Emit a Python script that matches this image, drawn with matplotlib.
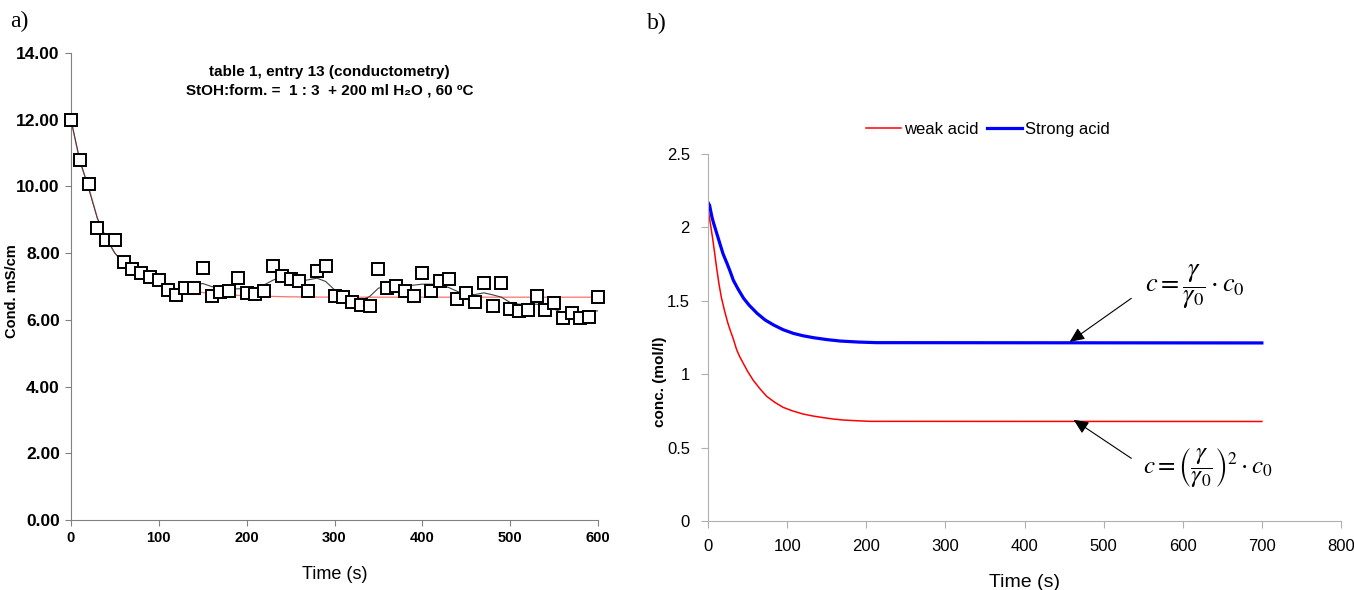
import matplotlib.pyplot as plt
import numpy as np

plt.rcParams['font.family'] = ['Liberation Sans', 'DejaVu Sans']
plt.rcParams['mathtext.fontset'] = 'stix'

# ---------------- panel a) data : conductometry ----------------
time_a = list(range(0, 610, 10))
cond = [12.0, 10.79, 10.08, 8.76, 8.38, 8.38, 7.72, 7.52, 7.40, 7.27,
        7.19, 6.90, 6.74, 6.95, 6.96, 7.56, 6.72, 6.83, 6.86, 7.24,
        6.81, 6.78, 6.87, 7.62, 7.32, 7.22, 7.16, 6.86, 7.46, 7.62,
        6.72, 6.69, 6.54, 6.44, 6.42, 7.51, 6.97, 7.02, 6.88, 6.72,
        7.39, 6.88, 7.17, 7.21, 6.62, 6.81, 6.55, 7.10, 6.41, 7.10,
        6.34, 6.26, 6.31, 6.73, 6.30, 6.51, 6.07, 6.21, 6.07, 6.08,
        6.68]

# exponential fit
fit_t = [0, 10, 20, 30, 40, 50, 60, 70, 80, 90, 100, 110, 120, 140, 160, 180, 200, 250, 300, 600]
fit_v = [12.0, 10.75, 10.0, 9.05, 8.45, 8.0, 7.7, 7.5, 7.35, 7.23, 7.13, 7.02, 6.93, 6.85, 6.79,
         6.75, 6.72, 6.69, 6.68, 6.68]

# smoothed trend line
trend_v = [12.0, 10.8, 9.95, 9.05, 8.45, 8.0, 7.7, 7.48, 7.32, 7.18,
           7.05, 6.95, 6.88, 6.92, 7.03, 7.09, 7.0, 6.94, 6.92, 6.93,
           6.94, 6.95, 7.05, 7.19, 7.3, 7.22, 7.16, 7.2, 7.25, 7.15,
           6.9, 6.72, 6.62, 6.58, 6.7, 6.95, 7.02, 7.05, 7.02, 7.04,
           7.07, 7.07, 7.05, 6.97, 6.85, 6.76, 6.76, 6.81, 6.75, 6.68,
           6.52, 6.47, 6.47, 6.47, 6.44, 6.32, 6.22, 6.21, 6.22, 6.25,
           6.27]

# ---------------- panel b) data : model curves ----------------
weak_t = [0, 2, 4, 6, 8, 11, 14, 17, 21, 25, 28, 32, 36, 40, 45, 50, 57, 65, 74, 84,
          95, 107, 120, 133, 146, 158, 171, 188, 205, 700]
weak_v = [2.13, 2.06, 1.99, 1.92, 1.84, 1.72, 1.61, 1.52, 1.43, 1.35, 1.30, 1.24, 1.17, 1.12,
          1.07, 1.02, 0.96, 0.905, 0.85, 0.81, 0.774, 0.75, 0.729, 0.715, 0.704, 0.695, 0.688,
          0.683, 0.679, 0.678]
strong_t = [0, 2, 5, 7, 11, 15, 19, 24, 28, 32, 38, 45, 52, 62, 72, 83, 95, 108, 120, 133,
            150, 167, 190, 213, 700]
strong_v = [2.17, 2.15, 2.07, 2.03, 1.96, 1.89, 1.82, 1.755, 1.70, 1.64, 1.58, 1.517, 1.47,
            1.415, 1.37, 1.335, 1.303, 1.278, 1.262, 1.249, 1.236, 1.226, 1.219, 1.215, 1.213]

serif = ['Liberation Serif', 'DejaVu Serif']

fig = plt.figure(figsize=(13.54, 5.9), dpi=100)
ax1 = fig.add_axes([0.0524, 0.1186, 0.3893, 0.7916])
ax2 = fig.add_axes([0.5229, 0.1169, 0.4675, 0.6221])

#============ panel a ============
ax1.plot(fit_t, fit_v, color='#ff7070', lw=0.9, zorder=2)
ax1.plot(time_a, trend_v, color='#404040', lw=0.8, zorder=3)
ax1.plot(time_a, cond, ls='none', marker='s', ms=8, mfc='white', mec='black', mew=1.4,
         zorder=4, clip_on=False)

ax1.set_xlim(0, 600)
ax1.set_ylim(0, 14)
ax1.set_xticks(np.arange(0, 601, 100))
ax1.set_yticks(np.arange(0, 14.1, 2))
ax1.set_yticklabels(['%.2f' % v for v in np.arange(0, 14.1, 2)])
for s in ['top', 'right']:
  ax1.spines[s].set_visible(False)
for s in ['left', 'bottom']:
  ax1.spines[s].set_color('#808080')
ax1.tick_params(direction='out', length=4, color='#808080', pad=4)
ax1.tick_params(axis='x', labelsize=10.5)
ax1.tick_params(axis='y', labelsize=12.5)
for lab in ax1.get_xticklabels() + ax1.get_yticklabels():
  lab.set_fontweight('bold')
ax1.set_ylabel('Cond. mS/cm', fontsize=10.5, fontweight='bold')
ax1.yaxis.set_label_coords(-0.098, 0.49)
ax1.set_xlabel('Time (s)', fontsize=13, labelpad=15)
ax1.text(0.491, 0.94, 'table 1, entry 13 (conductometry)\nStOH:form. =  1 : 3  + 200 ml H\u2082O , 60 ºC',
         transform=ax1.transAxes, ha='center', va='center', fontsize=11, fontweight='bold',
         linespacing=1.4)

#============ panel b ============
ax2.plot(weak_t, weak_v, color='#ff0000', lw=1.1, label='weak acid')
ax2.plot(strong_t, strong_v, color='#0000ff', lw=2.3, label='Strong acid')

ax2.set_xlim(0, 800)
ax2.set_ylim(0, 2.5)
ax2.set_xticks(np.arange(0, 801, 100))
ax2.set_yticks([0, 0.5, 1, 1.5, 2, 2.5])
ax2.set_yticklabels(['0', '0.5', '1', '1.5', '2', '2.5'])
for s in ['top', 'right']:
  ax2.spines[s].set_visible(False)
for s in ['left', 'bottom']:
  ax2.spines[s].set_color('#b0b0b0')
ax2.tick_params(direction='out', length=5, color='#b0b0b0', labelsize=12, pad=8)
ax2.set_ylabel('conc. (mol/l)', fontsize=11, fontweight='bold')
ax2.yaxis.set_label_coords(-0.064, 0.38)
ax2.set_xlabel('Time (s)', fontsize=14, labelpad=14)

ax2.legend(loc='center', bbox_to_anchor=(0.7297, 0.78), bbox_transform=fig.transFigure,
           ncol=2, frameon=False, handlelength=2.1, handletextpad=0.2, columnspacing=0.5,
           prop={'size': 12})

arrow = dict(arrowstyle='-|>,head_length=0.9,head_width=0.4', color='black', lw=0.8,
             shrinkA=0, shrinkB=0)
ax2.annotate('', xy=(457, 1.22), xytext=(535, 1.517), arrowprops=arrow)
ax2.annotate('', xy=(462, 0.69), xytext=(535, 0.427), arrowprops=arrow)
ax2.text(615, 1.594, r'$c=\dfrac{\gamma}{\gamma_0}\cdot c_0$', ha='center', va='center', fontsize=19)
ax2.text(632, 0.361, r'$c=\left(\dfrac{\gamma}{\gamma_0}\right)^2\cdot c_0$', ha='center', va='center',
         fontsize=18)

fig.text(0.0075, 0.963, 'a)', fontsize=17, fontfamily=serif, va='center')
fig.text(0.478, 0.960, 'b)', fontsize=17, fontfamily=serif, va='center')

plt.savefig('out.png', dpi=100)
